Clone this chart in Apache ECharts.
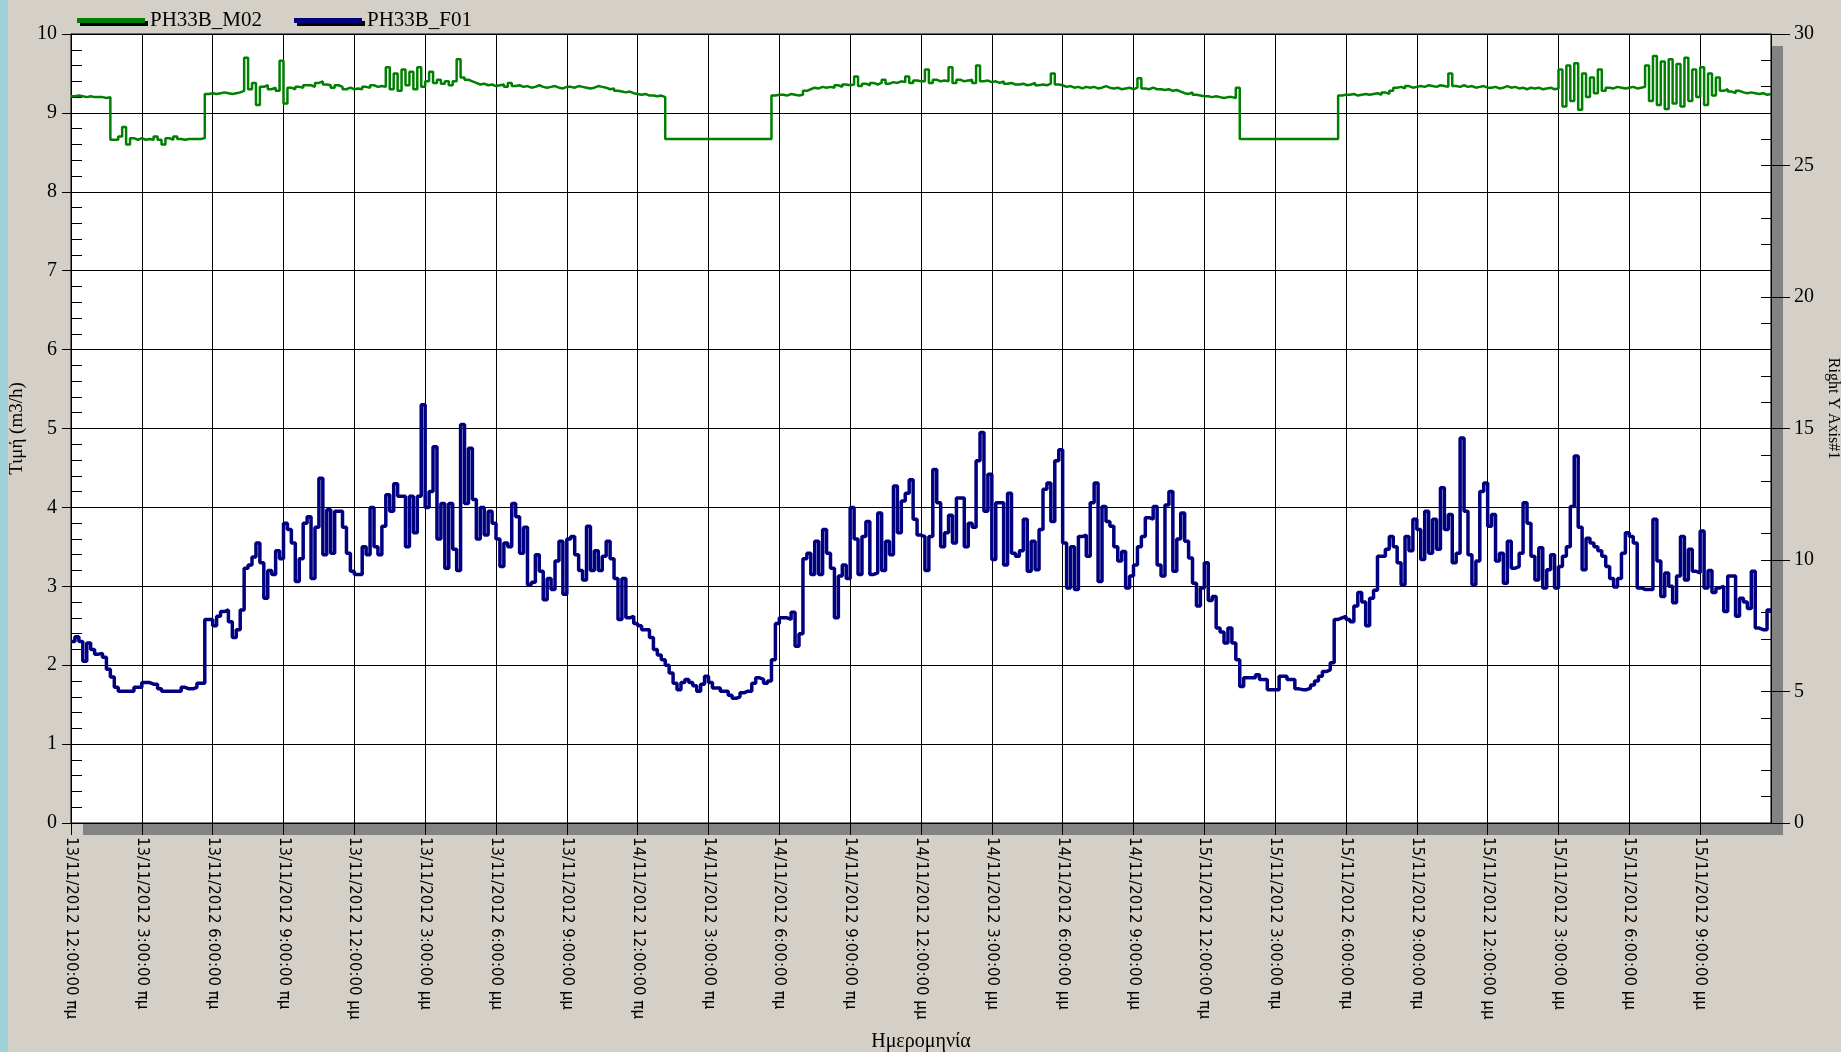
<!DOCTYPE html>
<html>
<head>
<meta charset="utf-8">
<title>PH33B</title>
<script src="https://cdn.jsdelivr.net/npm/echarts@6/dist/echarts.min.js"></script>
<style>
  html, body { margin: 0; padding: 0; background: #d4d0c8; overflow: hidden; width: 100%; height: 100%; }
  #chart { position: absolute; left: 0; top: 0; width: 1841px; height: 1052px; }
</style>
</head>
<body>
<div id="chart"></div>
<script>
// Sampling: one value every 10 minutes, starting 13/11/2012 00:00 (x is hours from start)
const STEP_HOURS = 1 / 6;
const SPAN_HOURS = 72;

// Tick labels of the time axis, one every 3 hours
const xTickLabels = [
  '13/11/2012 12:00:00 πμ', '13/11/2012 3:00:00 πμ', '13/11/2012 6:00:00 πμ', '13/11/2012 9:00:00 πμ',
  '13/11/2012 12:00:00 μμ', '13/11/2012 3:00:00 μμ', '13/11/2012 6:00:00 μμ', '13/11/2012 9:00:00 μμ',
  '14/11/2012 12:00:00 πμ', '14/11/2012 3:00:00 πμ', '14/11/2012 6:00:00 πμ', '14/11/2012 9:00:00 πμ',
  '14/11/2012 12:00:00 μμ', '14/11/2012 3:00:00 μμ', '14/11/2012 6:00:00 μμ', '14/11/2012 9:00:00 μμ',
  '15/11/2012 12:00:00 πμ', '15/11/2012 3:00:00 πμ', '15/11/2012 6:00:00 πμ', '15/11/2012 9:00:00 πμ',
  '15/11/2012 12:00:00 μμ', '15/11/2012 3:00:00 μμ', '15/11/2012 6:00:00 μμ', '15/11/2012 9:00:00 μμ'
];

// PH33B_M02 — one row per hour, six 10-minute samples each
const m02 = [
  9.21, 9.22, 9.21, 9.20, 9.21, 9.20,
  9.20, 9.20, 9.19, 9.20, 8.66, 8.66,
  8.70, 8.82, 8.60, 8.68, 8.66, 8.68,
  8.66, 8.67, 8.66, 8.70, 8.66, 8.60,
  8.68, 8.66, 8.70, 8.67, 8.66, 8.67,
  8.67, 8.67, 8.67, 8.68, 9.24, 9.25,
  9.24, 9.25, 9.26, 9.25, 9.24, 9.25,
  9.26, 9.28, 9.70, 9.30, 9.38, 9.10,
  9.33, 9.35, 9.30, 9.32, 9.28, 9.66,
  9.12, 9.32, 9.30, 9.33, 9.32, 9.35,
  9.35, 9.33, 9.38, 9.40, 9.36, 9.35,
  9.32, 9.35, 9.33, 9.30, 9.32, 9.30,
  9.31, 9.30, 9.33, 9.32, 9.35, 9.33,
  9.34, 9.33, 9.58, 9.30, 9.50, 9.28,
  9.55, 9.35, 9.52, 9.30, 9.58, 9.33,
  9.40, 9.52, 9.38, 9.42, 9.37, 9.40,
  9.35, 9.40, 9.68, 9.45, 9.42, 9.40,
  9.38, 9.36, 9.37, 9.35, 9.36, 9.34,
  9.35, 9.36, 9.33, 9.38, 9.34, 9.35,
  9.33, 9.34, 9.32, 9.33, 9.35, 9.33,
  9.32, 9.33, 9.34, 9.32, 9.31, 9.33,
  9.33, 9.32, 9.34, 9.33, 9.32, 9.31,
  9.32, 9.34, 9.33, 9.32, 9.30, 9.31,
  9.28, 9.27, 9.26, 9.27, 9.25, 9.24,
  9.23, 9.24, 9.22, 9.22, 9.21, 9.22,
  9.20, 8.67, 8.67, 8.67, 8.67, 8.67,
  8.67, 8.67, 8.67, 8.67, 8.67, 8.67,
  8.67, 8.67, 8.67, 8.67, 8.67, 8.67,
  8.67, 8.67, 8.67, 8.67, 8.67, 8.67,
  8.67, 8.67, 8.67, 8.67, 9.22, 9.23,
  9.23, 9.22, 9.24, 9.23, 9.22, 9.23,
  9.28, 9.30, 9.32, 9.31, 9.33, 9.32,
  9.33, 9.32, 9.35, 9.33, 9.36, 9.35,
  9.36, 9.46, 9.34, 9.37, 9.35, 9.38,
  9.36, 9.38, 9.42, 9.37, 9.39, 9.38,
  9.40, 9.39, 9.46, 9.38, 9.41, 9.40,
  9.40, 9.55, 9.38, 9.42, 9.40, 9.41,
  9.40, 9.58, 9.38, 9.42, 9.40, 9.41,
  9.42, 9.38, 9.60, 9.40, 9.41, 9.39,
  9.40, 9.38, 9.40, 9.37, 9.38, 9.36,
  9.36, 9.37, 9.35, 9.36, 9.38, 9.35,
  9.36, 9.35, 9.37, 9.50, 9.36, 9.35,
  9.33, 9.34, 9.32, 9.33, 9.31, 9.33,
  9.32, 9.33, 9.31, 9.32, 9.34, 9.32,
  9.31, 9.32, 9.30, 9.31, 9.32, 9.30,
  9.32, 9.44, 9.31, 9.30, 9.32, 9.30,
  9.30, 9.29, 9.30, 9.28, 9.29, 9.27,
  9.25, 9.24, 9.26, 9.23, 9.22, 9.21,
  9.21, 9.20, 9.21, 9.20, 9.19, 9.20,
  9.20, 9.19, 9.32, 8.67, 8.67, 8.67,
  8.67, 8.67, 8.67, 8.67, 8.67, 8.67,
  8.67, 8.67, 8.67, 8.67, 8.67, 8.67,
  8.67, 8.67, 8.67, 8.67, 8.67, 8.67,
  8.67, 8.67, 8.67, 8.67, 9.22, 9.23,
  9.23, 9.24, 9.22, 9.23, 9.24, 9.23,
  9.24, 9.25, 9.23, 9.26, 9.24, 9.28,
  9.32, 9.33, 9.31, 9.34, 9.32, 9.33,
  9.34, 9.33, 9.35, 9.34, 9.33, 9.35,
  9.34, 9.33, 9.50, 9.34, 9.33, 9.35,
  9.33, 9.34, 9.32, 9.33, 9.34, 9.32,
  9.32, 9.33, 9.31, 9.32, 9.34, 9.32,
  9.33, 9.31, 9.32, 9.30, 9.32, 9.31,
  9.32, 9.30, 9.31, 9.32, 9.30, 9.31,
  9.55, 9.08, 9.60, 9.15, 9.63, 9.04,
  9.50, 9.20, 9.45, 9.25, 9.55, 9.28,
  9.32, 9.31, 9.33, 9.32, 9.31, 9.32,
  9.33, 9.31, 9.32, 9.33, 9.60, 9.15,
  9.72, 9.10, 9.65, 9.05, 9.68, 9.12,
  9.62, 9.08, 9.70, 9.15, 9.55, 9.20,
  9.58, 9.10, 9.50, 9.22, 9.45, 9.28,
  9.30, 9.27, 9.25, 9.28, 9.26, 9.25,
  9.26, 9.25, 9.24, 9.25, 9.23, 9.24
];

// PH33B_F01 — one row per hour, six 10-minute samples each
const f01 = [
  2.30, 2.36, 2.30, 2.05, 2.28, 2.20,
  2.14, 2.15, 2.10, 1.95, 1.85, 1.72,
  1.67, 1.67, 1.67, 1.67, 1.72, 1.72,
  1.78, 1.78, 1.76, 1.76, 1.70, 1.67,
  1.67, 1.67, 1.67, 1.67, 1.72, 1.70,
  1.70, 1.72, 1.77, 1.77, 2.58, 2.58,
  2.50, 2.62, 2.68, 2.70, 2.55, 2.35,
  2.45, 2.70, 3.23, 3.27, 3.37, 3.55,
  3.30, 2.85, 3.20, 3.15, 3.45, 3.35,
  3.80, 3.72, 3.55, 3.06, 3.35, 3.80,
  3.88, 3.10, 3.75, 4.37, 3.40, 3.97,
  3.42, 3.95, 3.95, 3.75, 3.42, 3.19,
  3.15, 3.15, 3.50, 3.40, 4.00, 3.50,
  3.40, 3.76, 4.16, 3.95, 4.30, 4.14,
  4.14, 3.50, 4.14, 3.68, 4.14, 5.30,
  4.00, 4.20, 4.77, 3.60, 4.05, 3.23,
  4.05, 3.47, 3.20, 5.05, 4.05, 4.75,
  4.10, 3.60, 4.00, 3.65, 3.95, 3.80,
  3.60, 3.25, 3.55, 3.50, 4.05, 3.88,
  3.42, 3.75, 3.02, 3.05, 3.40, 3.19,
  2.83, 3.10, 2.96, 3.32, 3.57, 2.90,
  3.60, 3.63, 3.40, 3.20, 3.08, 3.76,
  3.20, 3.45, 3.20, 3.38, 3.57, 3.35,
  3.10, 2.58, 3.10, 2.60, 2.62, 2.53,
  2.50, 2.45, 2.45, 2.35, 2.20, 2.13,
  2.07, 2.00, 1.90, 1.77, 1.69, 1.78,
  1.82, 1.78, 1.74, 1.67, 1.76, 1.86,
  1.78, 1.71, 1.71, 1.67, 1.67, 1.62,
  1.58, 1.60, 1.65, 1.67, 1.67, 1.77,
  1.84, 1.82, 1.77, 1.80, 2.07, 2.53,
  2.60, 2.60, 2.58, 2.67, 2.24, 2.40,
  3.35, 3.42, 3.15, 3.57, 3.15, 3.72,
  3.42, 3.23, 2.60, 3.13, 3.27, 3.10,
  4.00, 3.60, 3.15, 3.63, 3.82, 3.15,
  3.17, 3.93, 3.20, 3.57, 3.40, 4.27,
  3.68, 4.08, 4.18, 4.35, 3.85, 3.65,
  3.63, 3.20, 3.63, 4.48, 4.06, 3.50,
  3.68, 3.90, 3.55, 4.12, 4.12, 3.50,
  3.80, 3.75, 4.59, 4.95, 3.95, 4.42,
  3.34, 4.06, 4.06, 3.27, 4.18, 3.42,
  3.38, 3.45, 3.85, 3.19, 3.57, 3.21,
  3.72, 4.23, 4.31, 3.82, 4.59, 4.73,
  3.55, 2.98, 3.50, 2.96, 3.63, 3.65,
  3.38, 4.06, 4.31, 3.06, 4.01, 3.82,
  3.76, 3.50, 3.32, 3.44, 2.98, 3.13,
  3.27, 3.50, 3.63, 3.87, 3.85, 4.01,
  3.27, 3.13, 4.03, 4.20, 3.19, 3.60,
  3.93, 3.57, 3.36, 3.04, 2.75, 2.98,
  3.30, 2.82, 2.87, 2.47, 2.42, 2.28,
  2.47, 2.28, 2.07, 1.73, 1.84, 1.84,
  1.84, 1.88, 1.82, 1.82, 1.69, 1.69,
  1.69, 1.86, 1.86, 1.82, 1.82, 1.70,
  1.69, 1.69, 1.71, 1.75, 1.80, 1.86,
  1.92, 1.94, 2.03, 2.58, 2.60, 2.62,
  2.58, 2.55, 2.75, 2.92, 2.80, 2.50,
  2.85, 2.95, 3.38, 3.38, 3.47, 3.63,
  3.50, 3.30, 3.02, 3.63, 3.45, 3.85,
  3.72, 3.34, 3.95, 3.42, 3.85, 3.47,
  4.25, 3.72, 3.91, 3.30, 3.42, 4.88,
  3.95, 3.40, 3.02, 3.32, 4.20, 4.31,
  3.76, 3.91, 3.32, 3.42, 3.04, 3.57,
  3.23, 3.25, 3.42, 4.06, 3.80, 3.38,
  3.08, 3.49, 2.98, 3.21, 3.40, 2.98,
  3.25, 3.38, 3.50, 4.01, 4.65, 3.75,
  3.21, 3.61, 3.55, 3.50, 3.45, 3.38,
  3.25, 3.10, 2.99, 3.10, 3.42, 3.68,
  3.63, 3.55, 2.98, 2.96, 2.96, 2.96,
  3.85, 3.32, 2.87, 3.17, 3.00, 2.79,
  3.13, 3.63, 3.08, 3.47, 3.19, 3.17,
  3.70, 2.98, 3.20, 2.92, 2.98, 3.00,
  2.68, 3.13, 3.13, 2.62, 2.85, 2.80,
  2.72, 3.19, 2.47, 2.45, 2.45, 2.70
];

// Each sample holds until the next one; the last one holds to the end of the span
function toSteps(values) {
  const pts = values.map((v, i) => [i * STEP_HOURS, v]);
  pts.push([SPAN_HOURS, values[values.length - 1]]);
  return pts;
}

const SERIF = 'Liberation Serif';
const SANS = 'DejaVu Sans';

const chart = echarts.init(document.getElementById('chart'), null, { renderer: 'canvas', width: 1841, height: 1052 });

const gridBox = { left: 71, right: 70, top: 34, bottom: 229 };
const W = 1841, H = 1052;
const plotRight = W - gridBox.right, plotBottom = H - gridBox.bottom;

chart.setOption({
  animation: false,
  backgroundColor: '#d4d0c8',
  graphic: [
    // window edge strip
    { type: 'rect', z: -10, shape: { x: 0, y: 0, width: 8, height: H }, style: { fill: '#9fd2d8' } },
    // drop shadow of the plot box
    { type: 'rect', z: -10, shape: { x: gridBox.left + 12, y: plotBottom, width: plotRight - gridBox.left, height: 12 }, style: { fill: '#838383' } },
    { type: 'rect', z: -10, shape: { x: plotRight, y: gridBox.top + 12, width: 12, height: plotBottom - gridBox.top }, style: { fill: '#838383' } }
  ],
  legend: [
    {
      data: ['PH33B_M02'], left: 72, top: 5,
      icon: 'rect', itemWidth: 68, itemHeight: 5, itemGap: 8,
      itemStyle: { shadowColor: '#000', shadowOffsetX: 3, shadowOffsetY: 3, shadowBlur: 0 },
      textStyle: { fontFamily: SERIF, fontSize: 21, color: '#000' }
    },
    {
      data: ['PH33B_F01'], left: 289, top: 5,
      icon: 'rect', itemWidth: 68, itemHeight: 5, itemGap: 8,
      itemStyle: { shadowColor: '#000', shadowOffsetX: 3, shadowOffsetY: 3, shadowBlur: 0 },
      textStyle: { fontFamily: SERIF, fontSize: 21, color: '#000' }
    }
  ],
  grid: Object.assign({
    show: true, backgroundColor: '#ffffff', borderColor: '#000', borderWidth: 1,
    containLabel: false, outerBoundsMode: 'none'
  }, gridBox),
  xAxis: {
    type: 'value', min: 0, max: SPAN_HOURS, interval: 3,
    name: 'Ημερομηνία', nameLocation: 'middle', nameGap: 209,
    nameTextStyle: { fontFamily: SERIF, fontSize: 20, color: '#000' },
    axisLine: { show: true, lineStyle: { color: '#000', width: 1 } },
    axisTick: { show: true, inside: false, length: 12, lineStyle: { color: '#000' } },
    axisLabel: {
      rotate: -90, margin: 14, fontFamily: SANS, fontSize: 15, color: '#000',
      showMaxLabel: false,
      formatter: v => xTickLabels[Math.round(v / 3)] || ''
    },
    splitLine: { show: true, lineStyle: { color: '#000', width: 1 } }
  },
  yAxis: [
    {
      type: 'value', position: 'left', min: 0, max: 10, interval: 1,
      name: 'Τιμή (m3/h)', nameLocation: 'middle', nameGap: 41, nameRotate: 90,
      nameTextStyle: { fontFamily: SERIF, fontSize: 19, color: '#000' },
      axisLine: { show: true, lineStyle: { color: '#000' } },
      axisTick: { show: true, inside: false, length: 9, lineStyle: { color: '#000' } },
      axisLabel: { margin: 14, fontFamily: SERIF, fontSize: 20, color: '#000' },
      splitLine: { show: true, lineStyle: { color: '#000', width: 1 } }
    },
    {
      type: 'value', position: 'right', min: 0, max: 30, interval: 5,
      name: 'Right Y Axis#1', nameLocation: 'middle', nameGap: 49, nameRotate: -90,
      nameTextStyle: { fontFamily: SERIF, fontSize: 16, color: '#000', padding: [0, 40, 0, 0] },
      axisLine: { show: true, lineStyle: { color: '#000' } },
      axisTick: { show: true, inside: false, length: 19, lineStyle: { color: '#000' } },
      axisLabel: { margin: 23, fontFamily: SERIF, fontSize: 20, color: '#000' },
      splitLine: { show: false }
    },
    {
      // inner minor ticks of the left scale
      type: 'value', position: 'left', min: 0, max: 10, interval: 0.2,
      axisLine: { show: false },
      axisTick: { show: true, inside: true, length: 11, lineStyle: { color: '#000' } },
      axisLabel: { show: false }, splitLine: { show: false }
    },
    {
      // inner minor ticks of the right scale
      type: 'value', position: 'right', min: 0, max: 30, interval: 1,
      axisLine: { show: false },
      axisTick: { show: true, inside: true, length: 10, lineStyle: { color: '#000' } },
      axisLabel: { show: false }, splitLine: { show: false }
    }
  ],
  series: [
    {
      name: 'PH33B_M02', type: 'line', yAxisIndex: 0, step: 'end',
      showSymbol: false, color: '#008000',
      lineStyle: { color: '#008000', width: 2.5 },
      data: toSteps(m02)
    },
    {
      name: 'PH33B_F01', type: 'line', yAxisIndex: 0, step: 'end',
      showSymbol: false, color: '#000080',
      lineStyle: { color: '#000080', width: 3.5 },
      data: toSteps(f01)
    }
  ]
});
</script>
</body>
</html>
